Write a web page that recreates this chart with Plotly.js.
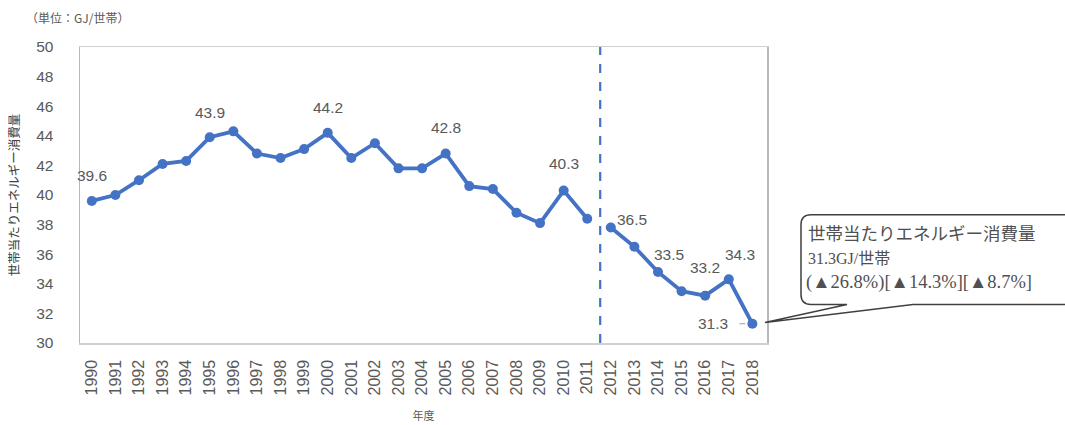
<!DOCTYPE html>
<html>
<head>
<meta charset="utf-8">
<script src="https://cdn.plot.ly/plotly-3.0.1.min.js"></script>
<style>
  html, body { margin: 0; padding: 0; background: #fff; }
  #chart { width: 1065px; height: 425px; }
</style>
</head>
<body>
<div id="chart"></div>
<script>
// Household energy consumption per household (GJ/household), fiscal years 1990-2018
const years = [1990, 1991, 1992, 1993, 1994, 1995, 1996, 1997, 1998, 1999,
               2000, 2001, 2002, 2003, 2004, 2005, 2006, 2007, 2008, 2009,
               2010, 2011, 2012, 2013, 2014, 2015, 2016, 2017, 2018];
const energyPerHousehold = [39.6, 40.0, 41.0, 42.1, 42.3, 43.9, 44.3, 42.8, 42.5, 43.1,
                            44.2, 42.5, 43.5, 41.8, 41.8, 42.8, 40.6, 40.4, 38.8, 38.1,
                            40.3, 38.4, 37.8, 36.5, 34.8, 33.5, 33.2, 34.3, 31.3];
// First year of the second series segment (the line is broken before it)
const breakYear = 2012;
// Years whose values are printed on the chart
const labelledYears = [1990, 1995, 2000, 2005, 2010, 2013, 2015, 2016, 2017, 2018];
// Text for the callout
const calloutTitle = '世帯当たりエネルギー消費量';
const calloutUnit = 'GJ/世帯';
const calloutChanges = '(▲26.8%)[▲14.3%][▲8.7%]';

const W = 1065, H = 425;
const M = { l: 80, r: 298, t: 47, b: 81.5 };
const plotW = W - M.l - M.r, plotH = H - M.t - M.b;

const blue = '#4472C4';
const grey = '#595959';
const font = '"Noto Sans CJK JP", "Liberation Sans", sans-serif';
const numFont = '"Liberation Sans", sans-serif';
const serif = '"Liberation Serif", "Noto Sans CJK JP", serif';

// Split series into two segments around the break
const seg1 = { x: [], y: [] }, seg2 = { x: [], y: [] };
years.forEach((yr, i) => {
  const s = yr < breakYear ? seg1 : seg2;
  s.x.push(yr); s.y.push(energyPerHousehold[i]);
});

const lineStyle = { color: blue, width: 3.8 };
const markerStyle = { color: blue, size: 10 };
const traces = [seg1, seg2].map(s => ({
  type: 'scatter', mode: 'lines+markers', x: s.x, y: s.y,
  line: lineStyle, marker: markerStyle, hoverinfo: 'x+y', showlegend: false
}));

// Label offsets (pixels) per labelled year
const labelShift = {
  1990: [0, 25], 1995: [0, 25], 2000: [0, 25], 2005: [0, 26], 2010: [0, 27],
  2013: [-2, 27], 2015: [-13, 37], 2016: [0, 28], 2017: [11, 25], 2018: [-39, 0]
};
const annotations = labelledYears.map(yr => {
  const v = energyPerHousehold[years.indexOf(yr)];
  const sh = labelShift[yr];
  return {
    x: yr, y: v, xref: 'x', yref: 'y', text: v.toFixed(1), showarrow: false,
    xshift: sh[0], yshift: sh[1], font: { family: numFont, size: 15.5, color: grey }
  };
});

// pixel -> paper helpers for free-floating decorations
const px = p => (p - M.l) / plotW;
const py = p => (H - M.b - p) / plotH;

const lastYear = years[years.length - 1];
const lastVal = energyPerHousehold[energyPerHousehold.length - 1];

// Unit note and callout texts
const calloutFont = { family: serif, size: 17.5, color: '#505050' };
annotations.push(
  { xref: 'paper', yref: 'paper', x: px(24), y: py(17), xanchor: 'left', yanchor: 'middle',
    text: '（単位：GJ/世帯）', showarrow: false, font: { family: font, size: 12, color: grey } },
  { xref: 'paper', yref: 'paper', x: px(806), y: py(234), xanchor: 'left', yanchor: 'middle',
    text: calloutTitle, showarrow: false, font: calloutFont },
  { xref: 'paper', yref: 'paper', x: px(806), y: py(259), xanchor: 'left', yanchor: 'middle',
    text: lastVal.toFixed(1) + calloutUnit, showarrow: false, font: { family: serif, size: 16, color: '#505050' } },
  { xref: 'paper', yref: 'paper', x: px(804), y: py(283), xanchor: 'left', yanchor: 'middle',
    text: calloutChanges, showarrow: false, font: { family: serif, size: 18.5, color: '#505050' } }
);

// Rounded callout box with a wedge pointing at the last point
const r = 10;
const bx0 = 801, bx1 = 1080, by0 = 215, by1 = 305;
const tip = [765, 323];
const pts = [
  ['M', bx0 + r, by0], ['L', bx1, by0], ['L', bx1, by1], ['L', 913, by1],
  ['L', tip[0], tip[1]], ['L', 847, by1], ['L', bx0 + r, by1]
];
let path = pts.map(p => p[0] + px(p[1]) + ',' + py(p[2])).join(' ');
path += ' Q' + px(bx0) + ',' + py(by1) + ' ' + px(bx0) + ',' + py(by1 - r);
path += ' L' + px(bx0) + ',' + py(by0 + r);
path += ' Q' + px(bx0) + ',' + py(by0) + ' ' + px(bx0 + r) + ',' + py(by0) + ' Z';

const shapes = [
  // boundary between the two periods
  { type: 'line', xref: 'x', yref: 'paper', x0: breakYear - 0.45, x1: breakYear - 0.45, y0: 0, y1: 1,
    line: { color: blue, width: 2.2, dash: 'dash' } },
  { type: 'path', xref: 'paper', yref: 'paper', path: path,
    line: { color: '#404040', width: 1.5 }, fillcolor: 'rgba(255,255,255,1)' },
  // short leader beside the last value
  { type: 'line', xref: 'x', yref: 'y', x0: lastYear - 0.55, x1: lastYear - 0.3, y0: lastVal, y1: lastVal,
    line: { color: '#a0a0a0', width: 1 } }
];

const layout = {
  width: W, height: H,
  margin: M,
  paper_bgcolor: '#fff', plot_bgcolor: '#fff',
  font: { family: font, color: grey },
  xaxis: {
    range: [1989.5, 2018.62], tickvals: years, ticktext: years.map(String),
    tickangle: -90, tickfont: { family: numFont, size: 16, color: grey },
    showgrid: false, zeroline: false, showline: true, linecolor: '#d0d0d0', linewidth: 1.5,
    mirror: true, ticks: '', ticklabelstandoff: 9, automargin: false,
    title: { text: '年度', font: { family: font, size: 11, color: grey }, standoff: 18 }
  },
  yaxis: {
    range: [30, 50], dtick: 2, tick0: 30,
    tickfont: { family: numFont, size: 15.5, color: grey },
    showgrid: false, zeroline: false, showline: true, linecolor: '#b8b8b8', linewidth: 1.5,
    mirror: true, ticks: '', ticklabelstandoff: 22, automargin: false,
    title: { text: '世帯当たりエネルギー消費量', font: { family: font, size: 12.5, color: '#404040' }, standoff: 14 }
  },
  shapes: shapes,
  annotations: annotations
};

Plotly.newPlot('chart', traces, layout, { displayModeBar: false, staticPlot: true });
</script>
</body>
</html>
